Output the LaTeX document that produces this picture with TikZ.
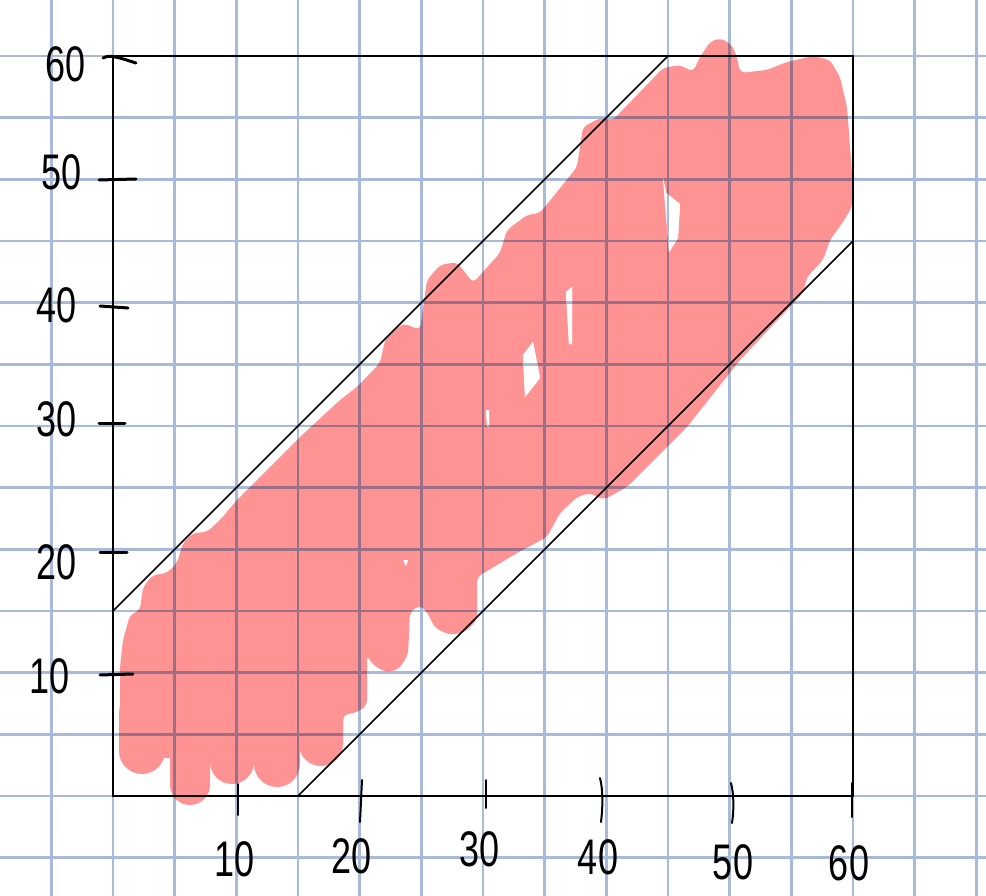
\documentclass[tikz,border=0pt]{standalone}
\usepackage{fontspec}
\usepackage{graphicx}
\newfontfamily\handfont{Liberation Sans}
\definecolor{gridblue}{RGB}{168,186,220}
\definecolor{gridmauve}{RGB}{155,112,135}
\definecolor{marker}{RGB}{255,147,147}
\tikzset{
  gridline/.style={draw=gridblue, line width=2.6pt},
  gridover/.style={draw=gridmauve, line width=2.6pt},
  pinkfill/.style={fill=marker, draw=none, rounded corners=5pt},
  hole/.style={fill=white, draw=none},
  boxline/.style={draw=black, line width=2.2pt},
  diagline/.style={draw=black, line width=1.5pt},
  ytick/.style={draw=black, line width=3pt, line cap=round},
  xtick/.style={draw=black, line width=2pt, line cap=round},
  lbl/.style={font=\handfont\fontsize{50}{50}\selectfont, inner sep=0pt, text=black},
}
\newcommand{\hw}[1]{\scalebox{0.72}[1]{#1}}
\newcommand{\mygrid}[1]{%
  \foreach \k in {-1,...,14} \draw[#1] ({113+61.667*\k},0) -- ({113+61.667*\k},896);
  \foreach \k in {-1,...,13} \draw[#1] (0,{56+61.667*\k}) -- (986,{56+61.667*\k});
}
\begin{document}
\begin{tikzpicture}[x=1pt,y=-1pt]
\useasboundingbox (0,0) rectangle (986,896);
\fill[white] (0,0) rectangle (986,896);

% pink marker region
\path[pinkfill, save path=\pinkpath] (120,760) -- (120,667) -- (123,640) -- (130,615) -- (140,610) -- (143,587) -- (153,575) -- (167,573) -- (177,563) -- (183,543) -- (193,533) -- (207,532) -- (220,520) -- (237,500) -- (300,437) -- (340,400) -- (357,387) -- (380,363) -- (385,340) -- (403,323) -- (420,330) -- (427,280) -- (440,265) -- (457,262) -- (473,283) -- (500,253) -- (507,230) -- (527,215) -- (540,213) -- (577,167) -- (583,127) -- (600,118) -- (613,120) -- (663,68) -- (680,65) -- (693,72) -- (700,57) -- (710,42) -- (720,38) -- (732,45) -- (737,57) -- (740,73) -- (767,70) -- (787,62) -- (813,56) -- (830,60) -- (840,77) -- (847,107) -- (852,173) -- (852,207) -- (843,222) -- (830,240) -- (823,260) -- (807,277) -- (803,293) -- (740,360) -- (687,427) -- (627,487) -- (603,500) -- (590,493) -- (577,497) -- (560,513) -- (547,537) -- (517,553) -- (477,577) -- (477,620) -- (465,632) -- (450,635) -- (435,628) -- (427,612) -- (420,605) -- (410,612) -- (408,655) -- (398,670) -- (385,672) -- (372,664) -- (367,655) -- (367,705) -- (358,712) -- (343,715) -- (343,750) -- cycle;
\foreach \cx/\hwd/\by in {142/23/774, 190/20/805, 232/22/784, 277/23/787, 321/22/766}
  \fill[marker, rounded corners=\hwd pt] ({\cx-\hwd},690) rectangle ({\cx+\hwd},\by);

% gaps in the marker
\path[hole, save path=\holepath] (663,178) -- (666,193) -- (680,204) -- (678,238) -- (669,252) -- cycle
  (566,292) -- (572,287) -- (572,344) -- (569,344) -- cycle
  (533,342) -- (540,378) -- (525,397) -- (523,355) -- cycle
  (486,410) -- (489,410) -- (489,426) -- (487,426) -- cycle
  (403,560) -- (408,560) -- (406,566) -- cycle;

% grid paper
\mygrid{gridline}
\begin{scope}
  \clip[use path=\pinkpath];
  \mygrid{gridover}
\end{scope}
\foreach \cx/\hwd/\by in {142/23/774, 190/20/805, 232/22/784, 277/23/787, 321/22/766}{
  \begin{scope}
    \clip[rounded corners=\hwd pt] ({\cx-\hwd},690) rectangle ({\cx+\hwd},\by);
    \mygrid{gridover}
  \end{scope}
}
% redraw gaps with their own light grid
\begin{scope}
  \clip[use path=\holepath];
  \fill[white] (0,0) rectangle (986,896);
  \mygrid{gridline}
\end{scope}

% frame and band
\coordinate (bl) at (113,796);
\coordinate (tr) at (853,56);
\draw[boxline] (bl) rectangle (tr);
\coordinate (u0) at (113,611);
\coordinate (u1) at (668,56);
\coordinate (d0) at (298,796);
\coordinate (d1) at (853,241);
\draw[diagline] (u0) -- (u1);
\draw[diagline] (d0) -- (d1);

% y ticks
\draw[ytick] (103,58) .. controls (110,54) and (120,58) .. (136,63);
\draw[ytick] (99,180) -- (136,179);
\draw[ytick] (100,306) -- (128,308);
\draw[ytick] (99,423) -- (125,423);
\draw[ytick] (100,552) -- (127,552);
\draw[ytick] (100,675) -- (133,674);
% x ticks
\draw[xtick] (238,784) -- (238,815);
\draw[xtick] (362,780) -- (360,822);
\draw[xtick] (486,780) -- (486,808);
\draw[xtick] (600,778) .. controls (603,790) and (603,805) .. (601,822);
\draw[xtick] (731,783) .. controls (734,795) and (734,810) .. (732,823);
\draw[xtick] (852,783) -- (852,817);

% labels
\node[lbl] (y60) at (66,64) {\hw{60}};
\node[lbl] (y50) at (62,172) {\hw{50}};
\node[lbl] (y40) at (57,305) {\hw{40}};
\node[lbl] (y30) at (57,419) {\hw{30}};
\node[lbl] (y20) at (57,562) {\hw{20}};
\node[lbl] (y10) at (50,676) {\hw{10}};
\node[lbl] (x10) at (235,859) {\hw{10}};
\node[lbl] (x20) at (352,856) {\hw{20}};
\node[lbl] (x30) at (480,849) {\hw{30}};
\node[lbl] (x40) at (598,857) {\hw{40}};
\node[lbl] (x50) at (733,862) {\hw{50}};
\node[lbl] (x60) at (849,863) {\hw{60}};
\end{tikzpicture}
\end{document}
